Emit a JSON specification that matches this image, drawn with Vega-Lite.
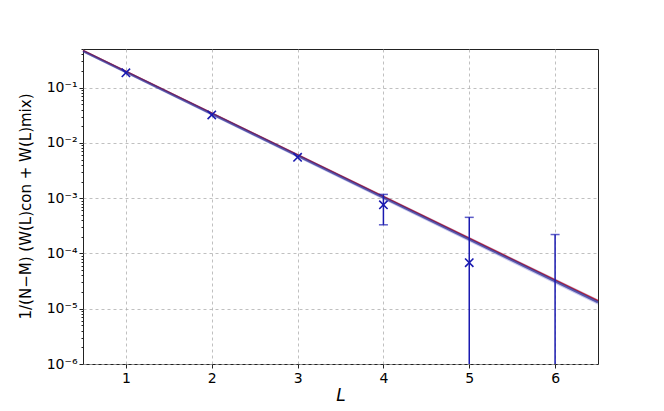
{
  "$schema": "https://vega.github.io/schema/vega-lite/v6.json",
  "width": 515,
  "height": 315,
  "autosize": {"type": "none"},
  "padding": {"left": 83, "top": 49, "right": 66, "bottom": 47},
  "background": "white",
  "config": {
    "font": "DejaVu Sans",
    "view": {"stroke": "#222", "strokeWidth": 1},
    "axis": {
      "labelFont": "DejaVu Sans",
      "labelFontSize": 14,
      "labelColor": "black",
      "tickColor": "#222",
      "domain": false,
      "grid": true,
      "gridColor": "#b0b0b0",
      "gridDash": [3, 3],
      "gridWidth": 0.8,
      "titleFont": "DejaVu Sans",
      "titleFontWeight": "normal",
      "titleColor": "black"
    }
  },
  "datasets": {
    "pts": [
      {"L": 1, "w": 0.185, "lo": null, "hi": null},
      {"L": 2, "w": 0.032, "lo": null, "hi": null},
      {"L": 3, "w": 0.0055, "lo": null, "hi": null},
      {"L": 4, "w": 0.00076, "lo": 0.00033, "hi": 0.00117},
      {"L": 5, "w": 0.000068, "lo": 0.00000001, "hi": 0.00045},
      {"L": 6, "w": null, "lo": 0.00000001, "hi": 0.00022}
    ],
    "fit": [
      {"L": 0.5, "red": 0.47, "blue": 0.46, "lo": 0.43, "hi": 0.49},
      {"L": 6.5, "red": 0.0000140, "blue": 0.0000132, "lo": 0.0000118, "hi": 0.0000148}
    ]
  },
  "encoding": {
    "x": {
      "field": "L",
      "type": "quantitative",
      "scale": {"domain": [0.5, 6.5], "nice": false, "zero": false},
      "axis": {
        "values": [1, 2, 3, 4, 5, 6],
        "title": "L",
        "titleFontStyle": "italic",
        "titleFontSize": 17,
        "titlePadding": 2,
        "tickSize": 4,
        "labelFontSize": 14,
        "labelPadding": 3
      }
    }
  },
  "layer": [
    {
      "data": {"name": "fit"},
      "mark": {"type": "area", "color": "#6a6ad0", "opacity": 0.35},
      "encoding": {
        "y": {
          "field": "lo",
          "type": "quantitative",
          "scale": {"type": "log", "domain": [0.000001, 0.5], "nice": false},
          "axis": {
            "values": [0.000001, 0.000002, 0.000003, 0.000004, 0.000005, 0.000006, 0.000007, 0.000008, 0.000009,
                       0.00001, 0.00002, 0.00003, 0.00004, 0.00005, 0.00006, 0.00007, 0.00008, 0.00009,
                       0.0001, 0.0002, 0.0003, 0.0004, 0.0005, 0.0006, 0.0007, 0.0008, 0.0009,
                       0.001, 0.002, 0.003, 0.004, 0.005, 0.006, 0.007, 0.008, 0.009,
                       0.01, 0.02, 0.03, 0.04, 0.05, 0.06, 0.07, 0.08, 0.09,
                       0.1, 0.2, 0.3, 0.4, 0.5],
            "labelExpr": "abs(log(datum.value)/LN10 - round(log(datum.value)/LN10)) < 0.001 ? '10⁻' + ['⁰','¹','²','³','⁴','⁵','⁶'][-round(log(datum.value)/LN10)] : ''",
            "labelFontSize": 14,
            "tickSize": {"condition": {"test": "abs(log(datum.value)/LN10 - round(log(datum.value)/LN10)) < 0.001", "value": 4}, "value": 2},
            "gridOpacity": {"condition": {"test": "abs(log(datum.value)/LN10 - round(log(datum.value)/LN10)) < 0.001", "value": 1}, "value": 0},
            "title": "1/(N−M) (W(L)con + W(L)mix)",
            "titleFontSize": 15,
            "titleAngle": -90,
            "titleX": -58,
            "titleY": 157,
            "titleBaseline": "middle",
            "titleAlign": "center"
          }
        },
        "y2": {"field": "hi"}
      }
    },
    {
      "data": {"name": "fit"},
      "mark": {"type": "line", "color": "#d62728", "strokeWidth": 1.4},
      "encoding": {"y": {"field": "red", "type": "quantitative"}}
    },
    {
      "data": {"name": "fit"},
      "mark": {"type": "line", "color": "#25258f", "strokeWidth": 2.4, "opacity": 0.7},
      "encoding": {"y": {"field": "blue", "type": "quantitative"}}
    },
    {
      "data": {"name": "pts"},
      "transform": [{"filter": "datum.hi != null"}],
      "mark": {"type": "rule", "color": "#1a1ab0", "strokeWidth": 1.5, "clip": true},
      "encoding": {
        "y": {"field": "lo", "type": "quantitative"},
        "y2": {"field": "hi"}
      }
    },
    {
      "data": {"name": "pts"},
      "transform": [{"filter": "datum.hi != null"}],
      "mark": {"type": "tick", "color": "#1a1ab0", "thickness": 1.5, "size": 9, "orient": "horizontal"},
      "encoding": {"y": {"field": "hi", "type": "quantitative"}}
    },
    {
      "data": {"name": "pts"},
      "transform": [{"filter": "datum.lo != null && datum.lo > 0.000001"}],
      "mark": {"type": "tick", "color": "#1a1ab0", "thickness": 1.5, "size": 9, "orient": "horizontal"},
      "encoding": {"y": {"field": "lo", "type": "quantitative"}}
    },
    {
      "data": {"name": "pts"},
      "transform": [{"filter": "datum.w != null"}],
      "mark": {"type": "point", "shape": "M-1,-1L1,1M1,-1L-1,1", "filled": false, "color": "#1a1ab0", "strokeWidth": 1.6, "size": 70, "opacity": 1},
      "encoding": {"y": {"field": "w", "type": "quantitative"}}
    }
  ]
}
